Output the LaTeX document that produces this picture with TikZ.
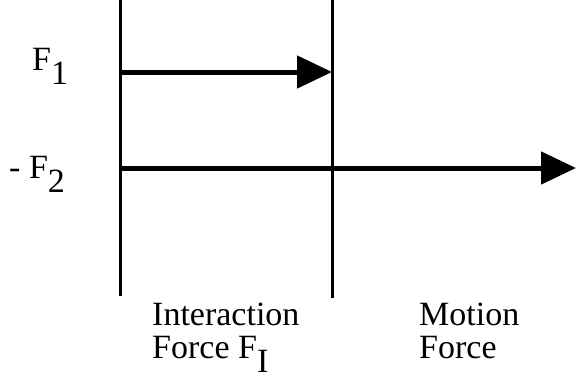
\documentclass[tikz,border=0pt]{standalone}
\usepackage{fontspec}
\setmainfont{Liberation Serif}
\usetikzlibrary{arrows.meta,positioning}

\newcommand{\lowidx}[1]{\raisebox{-0.42em}{#1}}

\begin{document}
\begin{tikzpicture}[
    x=1pt, y=-1pt,
    >={Triangle[length=35pt, width=32pt]},
    font=\fontsize{34}{33}\selectfont,
    divisa/.style={line width=3pt},
    forca/.style={->, line width=5pt},
    rotulo/.style={inner sep=0pt, anchor=base west, align=left}
  ]
  \useasboundingbox (0,0) rectangle (576,381);

  % ── linhas verticais ─────────────────────────────────────────────
  \coordinate (Ltop) at (120,0);
  \coordinate (Lbot) at (120,296);
  \coordinate (Rtop) at (332,0);
  \coordinate (Rbot) at (332,298);
  \draw[divisa] (Ltop) -- (Lbot);
  \draw[divisa] (Rtop) -- (Rbot);

  % ── forças ───────────────────────────────────────────────────────
  \coordinate (F1ini) at (120,72);
  \coordinate (F1fim) at (332,72);
  \coordinate (F2ini) at (120,168);
  \coordinate (F2fim) at (576,168);
  \draw[forca] (F1ini) -- (F1fim);
  \draw[forca] (F2ini) -- (F2fim);

  % ── rótulos ──────────────────────────────────────────────────────
  \node[rotulo] (lbF1) at (32,70)  {F\lowidx{1}};
  \node[rotulo] (lbF2) at (9,178) {- F\lowidx{2}};

  % (base = última linha)
  \node[rotulo] (lbInter)  at (152,358) {Interaction\\Force F\lowidx{I}};
  \node[rotulo] (lbMotion) at (419,358) {Motion\\Force};

\end{tikzpicture}
\end{document}
